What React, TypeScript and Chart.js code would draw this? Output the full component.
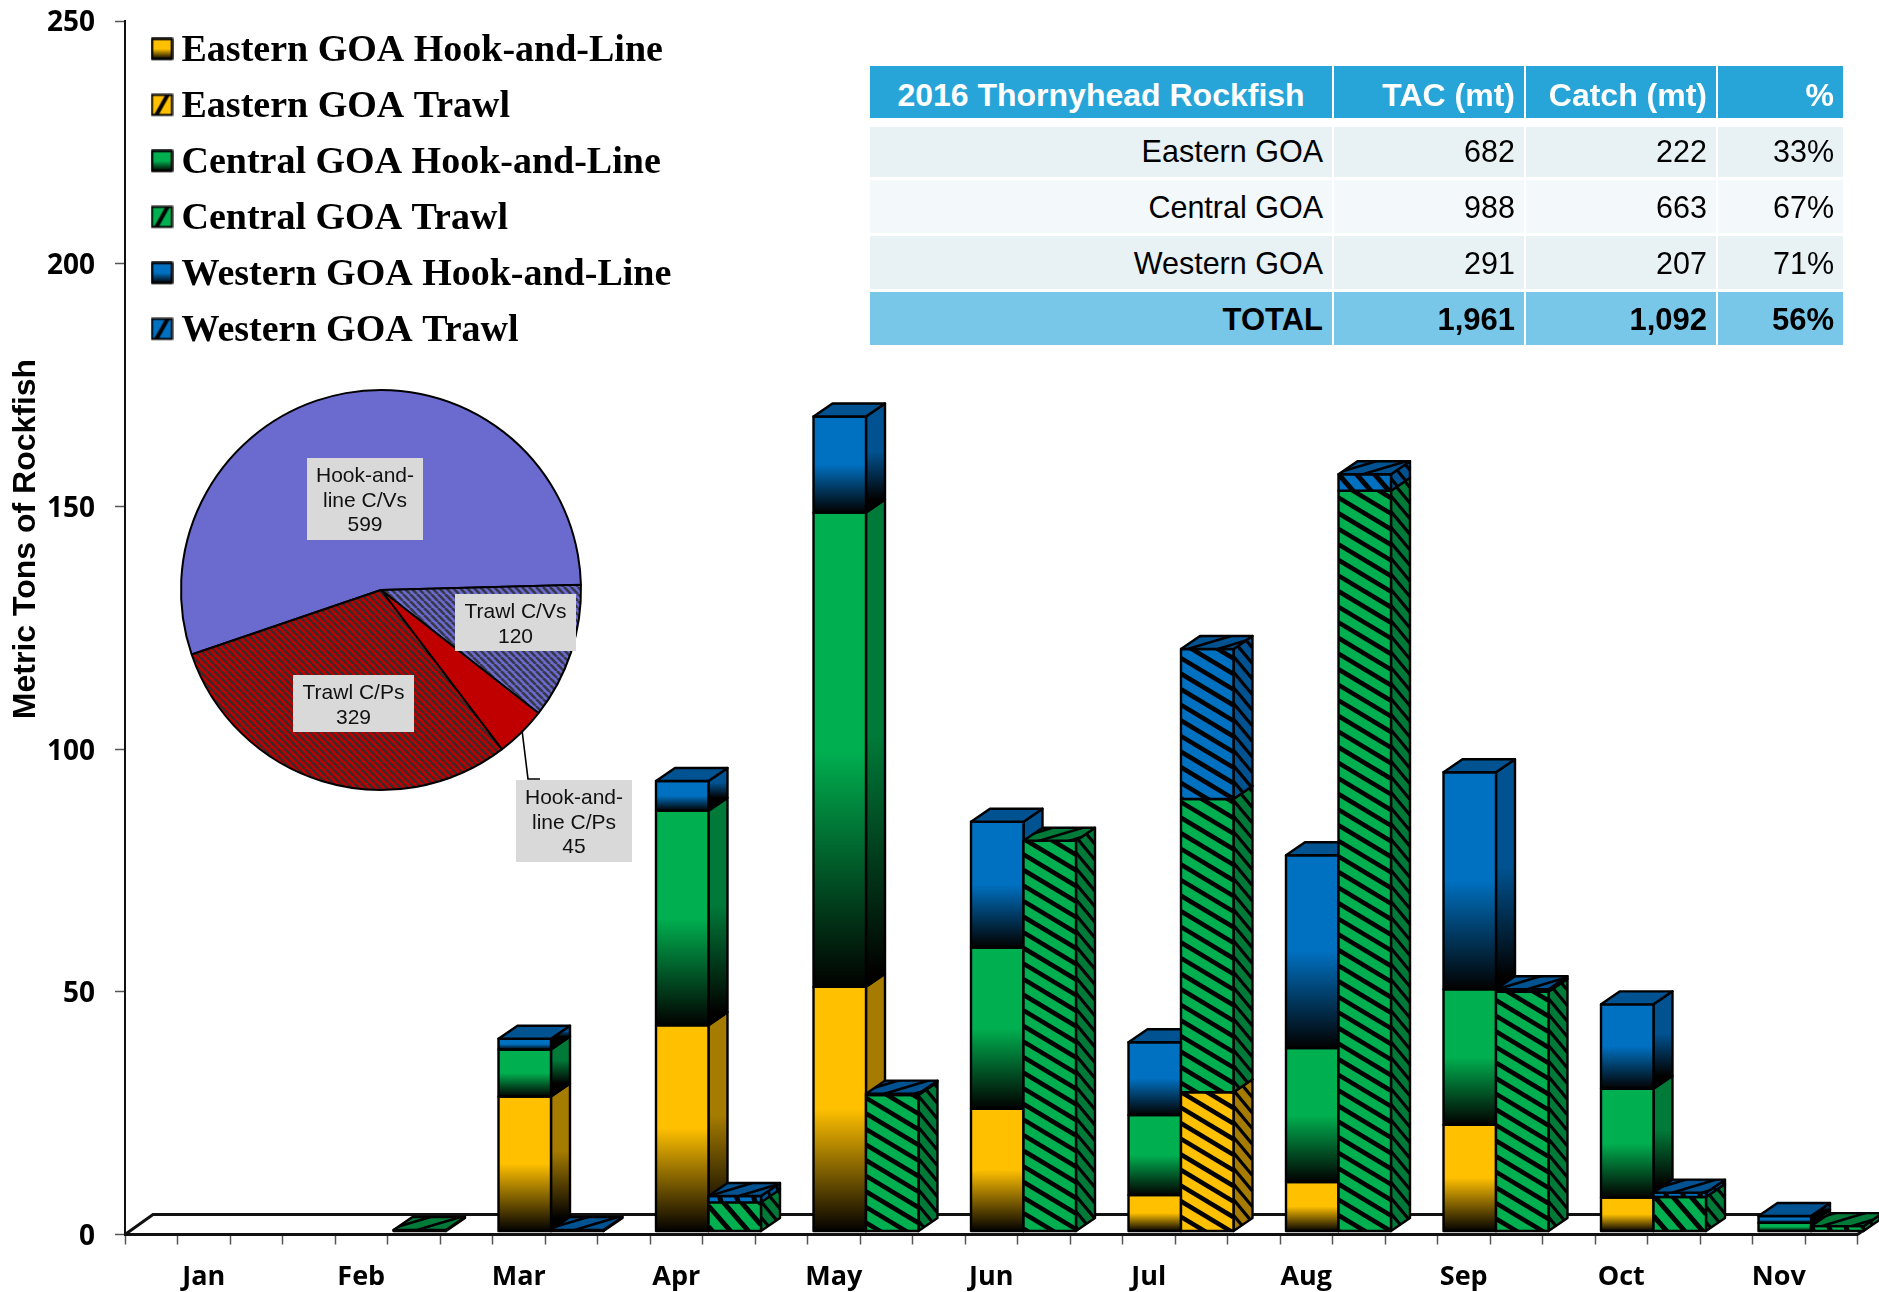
import React, { useEffect, useRef } from "react";
import { Chart, registerables } from "chart.js";

Chart.register(...registerables);

// ---------- data ----------
const months = ["Jan", "Feb", "Mar", "Apr", "May", "Jun", "Jul", "Aug", "Sep", "Oct", "Nov"];
const easternHookLine = [0, 0, 27.8, 42.5, 50.4, 25.3, 7.5, 10.2, 22, 7, 0];
const easternTrawl = [0, 0, 0, 0, 0, 0, 28.7, 0, 0, 0, 0];
const centralHookLine = [0, 0, 9.7, 44.2, 97.7, 33.2, 16.5, 27.6, 27.9, 22.4, 1.8];
const centralTrawl = [0, 0.3, 0, 6, 28.1, 80.5, 60.4, 152.6, 49.4, 7.1, 1.1];
const westernHookLine = [0, 0, 2.2, 6.1, 19.8, 25.9, 15, 39.7, 44.7, 17.4, 1.4];
const westernTrawl = [0, 0, 0.3, 1.3, 0.3, 0, 30.9, 3.4, 0.5, 0.9, 0];
const seriesNames = [
  "Eastern GOA Hook-and-Line",
  "Eastern GOA Trawl",
  "Central GOA Hook-and-Line",
  "Central GOA Trawl",
  "Western GOA Hook-and-Line",
  "Western GOA Trawl",
];
const yAxisTitle = "Metric Tons of Rockfish";

const pieLabels = [["Hook-and-", "line C/Vs"], ["Trawl C/Vs"], ["Hook-and-", "line C/Ps"], ["Trawl C/Ps"]];
const pieValues = [599, 120, 45, 329];

const tableHeader = ["2016 Thornyhead Rockfish", "TAC (mt)", "Catch (mt)", "%"];
const tableRows = [
  ["Eastern GOA", "682", "222", "33%"],
  ["Central GOA", "988", "663", "67%"],
  ["Western GOA", "291", "207", "71%"],
];
const tableTotal = ["TOTAL", "1,961", "1,092", "56%"];

// ---------- styling ----------
const YELLOW = "#FFC000";
const GREEN = "#00B050";
const BLUE = "#0070C0";
const YELLOW_D = "#A67C00";
const GREEN_D = "#007A38";
const BLUE_D = "#005290";
const faceColors = [YELLOW, YELLOW, GREEN, GREEN, BLUE, BLUE];
const sideColors = [YELLOW_D, YELLOW_D, GREEN_D, GREEN_D, BLUE_D, BLUE_D];
const hatched = [false, true, false, true, false, true];

const SHIFT_X = 6;
const SHIFT_Y = 3;
const DEPTH_X = 19;
const DEPTH_Y = 13;
const FLOOR_X = 28;
const FLOOR_Y = 20;

const slotCount = months.length * 3;
const slotLabels = Array.from({ length: slotCount }, (_, s) => (s % 3 === 1 ? months[(s - 1) / 3] : ""));
function toSlots(values: number[], offset: number) {
  const out: (number | null)[] = new Array(slotCount).fill(null);
  values.forEach((v, i) => {
    if (v > 0) out[i * 3 + offset] = v;
  });
  return out;
}

type Pt = [number, number];

function tracePoly(ctx: CanvasRenderingContext2D, poly: Pt[]) {
  ctx.beginPath();
  poly.forEach(([x, y], i) => (i ? ctx.lineTo(x, y) : ctx.moveTo(x, y)));
  ctx.closePath();
}

function drawStripes(ctx: CanvasRenderingContext2D, poly: Pt[], m: number, hs: number, lw: number) {
  const xs = poly.map((p) => p[0]);
  const ys = poly.map((p) => p[1]);
  const x0 = Math.min(...xs);
  const x1 = Math.max(...xs);
  const y0 = Math.min(...ys);
  const y1 = Math.max(...ys);
  const vs = hs * Math.abs(m);
  const span = m * (x1 - x0);
  ctx.strokeStyle = "#000";
  ctx.lineWidth = lw;
  const from = y0 - Math.max(span, 0) - vs;
  const to = y1 - Math.min(span, 0) + vs;
  for (let b = from + (y0 % vs); b < to; b += vs) {
    ctx.beginPath();
    ctx.moveTo(x0, b);
    ctx.lineTo(x1, b + span);
    ctx.stroke();
  }
}

function face(
  ctx: CanvasRenderingContext2D,
  poly: Pt[],
  color: string,
  opts: { gradient?: [number, number]; stripes?: [number, number, number] }
) {
  ctx.save();
  tracePoly(ctx, poly);
  ctx.clip();
  if (opts.gradient) {
    const g = ctx.createLinearGradient(0, opts.gradient[0], 0, opts.gradient[1]);
    g.addColorStop(0, color);
    g.addColorStop(0.5, color);
    g.addColorStop(1, "#020100");
    ctx.fillStyle = g;
  } else {
    ctx.fillStyle = color;
  }
  ctx.fill();
  if (opts.stripes) drawStripes(ctx, poly, opts.stripes[0], opts.stripes[1], opts.stripes[2]);
  ctx.restore();
  tracePoly(ctx, poly);
  ctx.lineJoin = "round";
  ctx.lineWidth = 2.4;
  ctx.strokeStyle = "#000";
  ctx.stroke();
}

const bar3dPlugin = {
  id: "bar3d",
  afterLayout(chart: any) {
    const lg = chart.legend;
    if (lg) {
      lg.left = 143.5;
      lg.right = 800;
      lg.top = 14.4;
      lg.bottom = 400;
    }
  },
  beforeDatasetDraw() {
    return false;
  },
  beforeDatasetsDraw(chart: any) {
    const { ctx, scales } = chart;
    const x = scales.x;
    const y = scales.y;
    const y0 = y.getPixelForValue(0);
    // floor of the 3-D plot
    ctx.save();
    ctx.strokeStyle = "#111";
    ctx.lineWidth = 3;
    ctx.beginPath();
    ctx.moveTo(x.left, y0);
    ctx.lineTo(x.left + FLOOR_X, y0 - FLOOR_Y);
    ctx.lineTo(x.right + FLOOR_X, y0 - FLOOR_Y);
    ctx.lineTo(x.right, y0);
    ctx.stroke();
    // boxes
    for (let s = 0; s < slotCount; s++) {
      let top = -1;
      for (let d = 0; d < 6; d++) if (chart.data.datasets[d].data[s]) top = d;
      for (let d = 0; d < 6; d++) {
        if (!chart.data.datasets[d].data[s]) continue;
        const el = chart.getDatasetMeta(d).data[s];
        const xl = el.x - el.width / 2 + SHIFT_X;
        const xr = el.x + el.width / 2 + SHIFT_X;
        const yt = el.y - SHIFT_Y;
        const yb = el.base - SHIFT_Y;
        const h = yb - yt;
        const hatch = hatched[d];
        const front: Pt[] = [[xl, yt], [xr, yt], [xr, yb], [xl, yb]];
        const side: Pt[] = [[xr, yt], [xr + DEPTH_X, yt - DEPTH_Y], [xr + DEPTH_X, yb - DEPTH_Y], [xr, yb]];
        if (hatch) {
          const frontS: [number, number, number] = h >= 60 ? [0.6, 26, 4.6] : h >= 14 ? [1.15, 18, 5] : [3, 17, 5];
          const sideS: [number, number, number] = h >= 14 ? [1.2, 13, 3.2] : [3, 10, 3];
          face(ctx, side, sideColors[d], { stripes: sideS });
          face(ctx, front, faceColors[d], { stripes: frontS });
        } else {
          face(ctx, side, sideColors[d], { gradient: [yt - DEPTH_Y, yb - DEPTH_Y] });
          face(ctx, front, faceColors[d], { gradient: [yt, yb] });
        }
        if (d === top) {
          const lid: Pt[] = [[xl, yt], [xl + DEPTH_X, yt - DEPTH_Y], [xr + DEPTH_X, yt - DEPTH_Y], [xr, yt]];
          face(ctx, lid, sideColors[d], hatch ? { stripes: [-0.3, 30, 2.6] } : {});
        }
      }
    }
    ctx.restore();
  },
  afterDraw(chart: any) {
    const { ctx } = chart;
    ctx.save();
    ctx.translate(26, 539);
    ctx.rotate(-Math.PI / 2);
    ctx.font = "bold 32px 'Liberation Sans'";
    ctx.textAlign = "center";
    ctx.textBaseline = "middle";
    ctx.fillStyle = "#000";
    ctx.fillText(yAxisTitle, 0, 0);
    ctx.restore();
  },
};

function swatch(d: number) {
  const c = document.createElement("canvas");
  c.width = 23;
  c.height = 28; // square sits above the canvas centre so it lines up with the cap height of the text
  const g = c.getContext("2d") as CanvasRenderingContext2D;
  const poly: Pt[] = [[1.5, 1.5], [21.5, 1.5], [21.5, 21.5], [1.5, 21.5]];
  if (hatched[d]) {
    g.save();
    tracePoly(g, poly);
    g.clip();
    g.fillStyle = faceColors[d];
    g.fill();
    g.strokeStyle = "#000";
    g.lineWidth = 4;
    g.beginPath();
    g.moveTo(5, 23);
    g.lineTo(18, 0);
    g.stroke();
    g.restore();
    tracePoly(g, poly);
    g.lineWidth = 2;
    g.strokeStyle = "#000";
    g.stroke();
  } else {
    face(g, poly, faceColors[d], { gradient: [1.5, 21.5] });
  }
  return c;
}

function piePattern(color: string, stripe: string | null) {
  if (!stripe) return color;
  const n = 7;
  const c = document.createElement("canvas");
  c.width = n;
  c.height = n;
  const g = c.getContext("2d") as CanvasRenderingContext2D;
  g.fillStyle = color;
  g.fillRect(0, 0, n, n);
  g.strokeStyle = stripe;
  g.lineWidth = 2.6;
  [-n, 0, n].forEach((o) => {
    g.beginPath();
    g.moveTo(o, 0);
    g.lineTo(o + n, n);
    g.stroke();
  });
  return g.createPattern(c, "repeat") as CanvasPattern;
}

// label boxes relative to the pie canvas' own origin (130, 370)
const pieBoxes = [
  { l: 177, t: 88, r: 293, b: 170 },
  { l: 325, t: 224, r: 446, b: 281 },
  { l: 386, t: 410, r: 502, b: 492 },
  { l: 163, t: 305, r: 284, b: 362 },
];

const pieLabelPlugin = {
  id: "pieLabels",
  afterDatasetsDraw(chart: any) {
    const { ctx } = chart;
    ctx.save();
    // leader line of the small slice
    ctx.strokeStyle = "#000";
    ctx.lineWidth = 1.6;
    ctx.beginPath();
    ctx.moveTo(392, 360);
    ctx.lineTo(398, 409);
    ctx.lineTo(410, 409);
    ctx.stroke();
    ctx.font = "21px 'Liberation Sans'";
    ctx.textAlign = "center";
    ctx.textBaseline = "middle";
    pieBoxes.forEach((b, i) => {
      ctx.fillStyle = "#D9D9D9";
      ctx.fillRect(b.l, b.t, b.r - b.l, b.b - b.t);
      const lines = [...pieLabels[i], String(pieValues[i])];
      const pitch = 24.5;
      const cy = (b.t + b.b) / 2;
      ctx.fillStyle = "#111";
      lines.forEach((t, k) => ctx.fillText(t, (b.l + b.r) / 2, cy + (k - (lines.length - 1) / 2) * pitch + 2));
    });
    ctx.restore();
  },
};

// ---------- table layout ----------
const colEdges = [870, 1332, 1524, 1716, 1843];
const rowEdges: [number, number, string, string, string, number, number][] = [
  [66, 118, "#27A5D9", "#fff", "bold", 32, 3],
  [127, 177, "#E8F2F4", "#000", "normal", 30.5, -1],
  [180, 233, "#F3F9FA", "#000", "normal", 30.5, 1],
  [236, 289, "#E8F2F4", "#000", "normal", 30.5, 1],
  [292, 345, "#79C7E8", "#000", "bold", 31, 1],
];

export default function App() {
  const barRef = useRef<HTMLCanvasElement>(null);
  const pieRef = useRef<HTMLCanvasElement>(null);

  useEffect(() => {
    const series = [
      toSlots(easternHookLine, 1),
      toSlots(easternTrawl, 2),
      toSlots(centralHookLine, 1),
      toSlots(centralTrawl, 2),
      toSlots(westernHookLine, 1),
      toSlots(westernTrawl, 2),
    ];
    const bar = new Chart(barRef.current as HTMLCanvasElement, {
      type: "bar",
      data: {
        labels: slotLabels,
        datasets: series.map((data, d) => ({
          label: seriesNames[d],
          data,
          backgroundColor: faceColors[d],
          borderColor: "#000",
          borderWidth: 2,
          barPercentage: 1,
          categoryPercentage: 1,
        })),
      },
      options: {
        responsive: false,
        animation: false,
        layout: { autoPadding: false, padding: { left: 0, top: 21, right: 21.5, bottom: 0 } },
        plugins: {
          tooltip: { enabled: false },
          title: { display: false },
          legend: {
            display: true,
            position: "chartArea",
            align: "start",
            labels: {
              usePointStyle: true,
              pointStyleWidth: 1,
              padding: 18,
              color: "#000",
              font: { family: "'Liberation Serif'", weight: "bold", size: 38 },
              generateLabels: () =>
                seriesNames.map((text, d) => ({ text, pointStyle: swatch(d), datasetIndex: d, hidden: false })),
            },
          },
        },
        scales: {
          x: {
            stacked: true,
            afterFit: (s: any) => {
              s.height = 57.5;
              s.paddingLeft = 0;
              s.paddingRight = 0;
            },
            border: { color: "#111", width: 3 },
            grid: { drawOnChartArea: false, drawTicks: true, tickLength: 10, tickColor: "#555", tickWidth: 1.5, offset: true },
            ticks: {
              autoSkip: false,
              maxRotation: 0,
              minRotation: 0,
              padding: 17,
              color: "#000",
              font: { family: "'Open Sans'", weight: "bold", size: 27 },
            },
          },
          y: {
            stacked: true,
            min: 0,
            max: 250,
            afterFit: (s: any) => {
              s.width = 125;
              s.paddingTop = 0;
              s.paddingBottom = 0;
            },
            border: { color: "#111", width: 2 },
            grid: { drawOnChartArea: false, drawTicks: true, tickLength: 10, tickColor: "#555", tickWidth: 1.5 },
            ticks: {
              stepSize: 50,
              padding: 20,
              labelOffset: 2.5,
              color: "#000",
              font: { family: "'Open Sans'", weight: "bold", size: 28 },
            },
          },
        },
      },
      plugins: [bar3dPlugin],
    } as any);

    const pie = new Chart(pieRef.current as HTMLCanvasElement, {
      type: "pie",
      data: {
        labels: pieLabels.map((l) => l.join(" ")),
        datasets: [
          {
            data: pieValues,
            backgroundColor: [
              piePattern("#6B6BCF", null),
              piePattern("#6B6BCF", "#38384A"),
              piePattern("#C00000", null),
              piePattern("#C00000", "#3A2A2A"),
            ],
            borderColor: "#000",
            borderWidth: 2,
            borderAlign: "center",
          },
        ],
      },
      options: {
        responsive: false,
        animation: false,
        rotation: -108.8,
        layout: { autoPadding: false, padding: { left: 50, top: 19, right: 68, bottom: 79 } },
        plugins: { legend: { display: false }, tooltip: { enabled: false } },
      },
      plugins: [pieLabelPlugin],
    } as any);

    return () => {
      bar.destroy();
      pie.destroy();
    };
  }, []);

  const cell = (text: string, r: number, c: number) => {
    const [top, bottom, bg, color, weight, size, nudge] = rowEdges[r];
    const centered = r === 0 && c === 0;
    return (
      <div
        key={`${r}-${c}`}
        style={{
          position: "absolute",
          left: colEdges[c] + (c ? 1.5 : 0),
          width: colEdges[c + 1] - colEdges[c] - (c ? 1.5 : 0),
          top,
          height: bottom - top,
          lineHeight: `${bottom - top + 2 * nudge}px`,
          background: bg,
          color,
          fontWeight: weight as any,
          fontFamily: "'Liberation Sans'",
          fontSize: size,
          textAlign: centered ? "center" : "right",
          paddingRight: centered ? 0 : 9,
          boxSizing: "border-box",
          whiteSpace: "nowrap",
          overflow: "hidden",
        }}
      >
        {text}
      </div>
    );
  };

  return (
    <div style={{ position: "absolute", left: 0, top: 0, width: 1879, height: 1292, overflow: "hidden", background: "#fff" }}>
      <canvas ref={barRef} width={1879} height={1292} style={{ position: "absolute", left: 0, top: 0 }} />
      <canvas ref={pieRef} width={520} height={500} style={{ position: "absolute", left: 130, top: 370 }} />
      {tableHeader.map((t, c) => cell(t, 0, c))}
      {tableRows.map((row, r) => row.map((t, c) => cell(t, r + 1, c)))}
      {tableTotal.map((t, c) => cell(t, 4, c))}
    </div>
  );
}
